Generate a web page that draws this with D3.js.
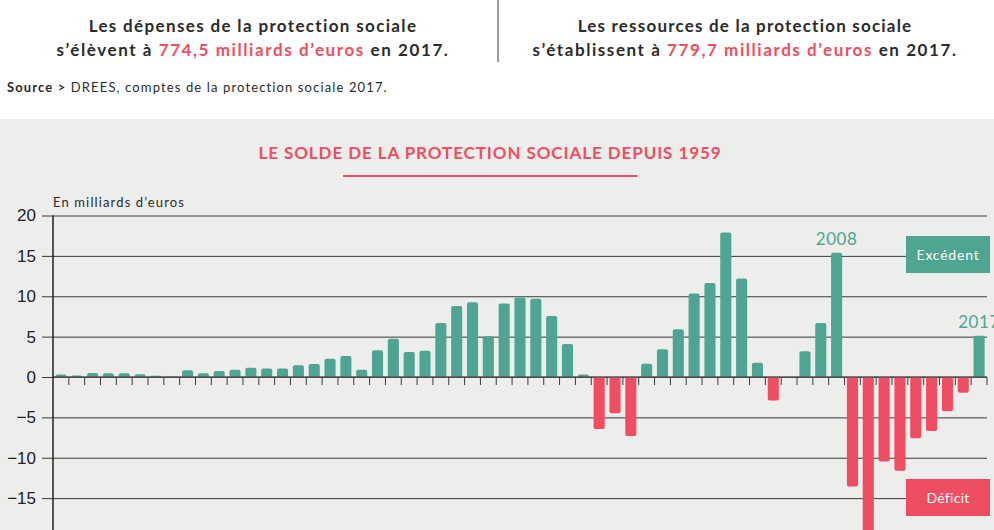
<!DOCTYPE html>
<html>
<head>
<meta charset="utf-8">
<script src="https://cdn.jsdelivr.net/npm/d3@7"></script>
<style>
  html, body { margin: 0; padding: 0; background: #fff; overflow: hidden; }
  svg { display: block; font-family: Lato, "Noto Sans", sans-serif; }
</style>
</head>
<body>
<div class="chart"></div>
<script>
// Data
var years = d3.range(1959, 2018);
var soldes = [
  0.3, 0.2, 0.5, 0.45, 0.45, 0.35, 0.15, 0.05, 0.85, 0.45,
  0.75, 0.9, 1.15, 1.05, 1.05, 1.45, 1.6, 2.25, 2.6, 0.9,
  3.3, 4.75, 3.1, 3.25, 6.7, 8.8, 9.25, 5.05, 9.1, 9.85,
  9.7, 7.55, 4.1, 0.3, -6.45, -4.5, -7.3, 1.65, 3.45, 5.9,
  10.35, 11.65, 17.9, 12.2, 1.75, -2.9, 0, 3.2, 6.7, 15.4,
  -13.55, -23.5, -10.45, -11.6, -7.6, -6.7, -4.25, -1.95, 5.1
];
var yTicks = [20, 15, 10, 5, 0, -5, -10, -15];
var highlightYears = [2008, 2017];

var headerLeft = ["Les dépenses de la protection sociale", "s’élèvent à ", "774,5 milliards d’euros", " en 2017."];
var headerRight = ["Les ressources de la protection sociale", "s’établissent à ", "779,7 milliards d’euros", " en 2017."];

var svgWidth = 994;
var svgHeight = 530;

var green = "#4ea591";
var red = "#ef4d62";
var ink = "#2b2b2b";

var svg = d3.select(".chart")
  .append("svg")
  .attr("width", svgWidth)
  .attr("height", svgHeight);

// widen a text to the width it has in the original (the font there is wider)
function fit(sel, target) {
  var node = sel.node();
  var len = node.getComputedTextLength();
  var n = node.textContent.length;
  sel.style("letter-spacing", ((target - len) / n) + "px");
}

// header
function header(lines, cx, w1, w2) {
  var t1 = svg.append("text")
    .attr("x", cx).attr("y", 32)
    .attr("text-anchor", "middle")
    .style("font-size", "17px").style("font-weight", 700)
    .attr("fill", ink)
    .text(lines[0]);
  fit(t1, w1);
  var t2 = svg.append("text")
    .attr("x", cx).attr("y", 56)
    .attr("text-anchor", "middle")
    .style("font-size", "17px").style("font-weight", 700)
    .attr("fill", ink);
  t2.append("tspan").text(lines[1]);
  t2.append("tspan").attr("fill", red).text(lines[2]);
  t2.append("tspan").text(lines[3]);
  fit(t2, w2);
}
header(headerLeft, 253, 329, 393);
header(headerRight, 745, 335, 425);

svg.append("line")
  .attr("x1", 498).attr("x2", 498)
  .attr("y1", 0).attr("y2", 62)
  .attr("stroke", "#9a9a9a").attr("stroke-width", 2);

var src = svg.append("text")
  .attr("x", 7).attr("y", 92)
  .style("font-size", "13px")
  .attr("fill", ink);
src.append("tspan").style("font-weight", 700).text("Source >");
src.append("tspan").text(" DREES, comptes de la protection sociale 2017.");
fit(src, 381);

// grey panel
svg.append("rect")
  .attr("x", 0).attr("y", 119)
  .attr("width", svgWidth).attr("height", svgHeight - 119)
  .attr("fill", "#ededeb");

var title = svg.append("text")
  .attr("x", 490).attr("y", 159)
  .attr("text-anchor", "middle")
  .style("font-size", "17px").style("font-weight", 700)
  .attr("fill", red)
  .text("LE SOLDE DE LA PROTECTION SOCIALE DEPUIS 1959");
fit(title, 463);

svg.append("line")
  .attr("x1", 343).attr("x2", 637)
  .attr("y1", 176).attr("y2", 176)
  .attr("stroke", red).attr("stroke-width", 2);

// scales
var x = d3.scaleBand()
  .domain(years)
  .range([53, 987])
  .paddingInner(0.3)
  .paddingOuter(0.15);

var y = d3.scaleLinear()
  .domain([0, 20])
  .range([377, 215.5]);

var chart = svg.append("g");

// gridlines + y labels
var leftAxis = d3.axisLeft(y)
  .tickValues(yTicks)
  .tickSize(-(987 - 42))
  .tickPadding(6)
  .tickFormat(d3.format("d"));

var yAxis = chart.append("g")
  .attr("transform", "translate(42,0)")
  .call(leftAxis);
yAxis.select(".domain").remove();
yAxis.selectAll(".tick line")
  .attr("stroke", "#3a3a3a");
yAxis.selectAll(".tick text")
  .style("font-family", "'Liberation Sans', Arial, sans-serif")
  .style("font-size", "17px")
  .attr("fill", "#222");

var unit = chart.append("text")
  .attr("x", 53).attr("y", 207)
  .style("font-size", "13px")
  .attr("fill", ink)
  .text("En milliards d’euros");
fit(unit, 132);

// bars with rounded outer end
function barPath(d, i) {
  var v = soldes[i];
  var x0 = x(d), w = x.bandwidth();
  var y0 = y(0), y1 = y(v);
  var r = Math.min(2, Math.abs(y1 - y0));
  var s = v >= 0 ? 1 : -1;
  return "M" + x0 + "," + y0 +
    "V" + (y1 + s * r) +
    "Q" + x0 + "," + y1 + " " + (x0 + r) + "," + y1 +
    "H" + (x0 + w - r) +
    "Q" + (x0 + w) + "," + y1 + " " + (x0 + w) + "," + (y1 + s * r) +
    "V" + y0 + "Z";
}

chart.append("g")
  .selectAll("path")
  .data(years)
  .enter()
  .append("path")
  .attr("d", barPath)
  .attr("fill", function(d, i) { return soldes[i] < 0 ? red : green; });

// zero line and ticks between years
var bottomAxis = d3.axisBottom(x)
  .tickSize(8)
  .tickFormat("");
var xAxis = chart.append("g")
  .attr("transform", "translate(0," + y(0) + ")")
  .call(bottomAxis);
xAxis.select(".domain")
  .attr("d", "M53,0H987")
  .attr("stroke", "#555").attr("stroke-width", 1.5);
xAxis.selectAll(".tick")
  .attr("transform", function(d) {
    return "translate(" + (x(d) + x.bandwidth() / 2 + x.step() / 2) + ",0)";
  });
xAxis.selectAll(".tick line").attr("stroke", "#3a3a3a");

// y axis line
chart.append("line")
  .attr("x1", 53).attr("x2", 53)
  .attr("y1", y(20)).attr("y2", svgHeight)
  .attr("stroke", "#222").attr("stroke-width", 1.5);

// year labels
chart.selectAll(".year-label")
  .data(highlightYears)
  .enter()
  .append("text")
  .attr("class", "year-label")
  .attr("x", function(d) { return x(d) + x.bandwidth() / 2; })
  .attr("y", function(d) { return y(soldes[years.indexOf(d)]) - 8; })
  .attr("text-anchor", "middle")
  .style("font-size", "17px")
  .style("letter-spacing", "0.6px")
  .attr("fill", green)
  .text(function(d) { return d; });

// legend boxes
var legend = [
  { label: "Excédent", color: green, y: 236, w: 63 },
  { label: "Déficit", color: red, y: 479, w: 43 }
];
var lg = chart.selectAll(".legend")
  .data(legend)
  .enter()
  .append("g")
  .attr("class", "legend")
  .attr("transform", function(d) { return "translate(906," + d.y + ")"; });
lg.append("rect")
  .attr("width", 84).attr("height", 37)
  .attr("fill", function(d) { return d.color; });
lg.append("text")
  .attr("x", 42).attr("y", 23.5)
  .attr("text-anchor", "middle")
  .style("font-size", "14px")
  .attr("fill", "#fff")
  .text(function(d) { return d.label; })
  .each(function(d) { fit(d3.select(this), d.w); });
</script>
</body>
</html>
